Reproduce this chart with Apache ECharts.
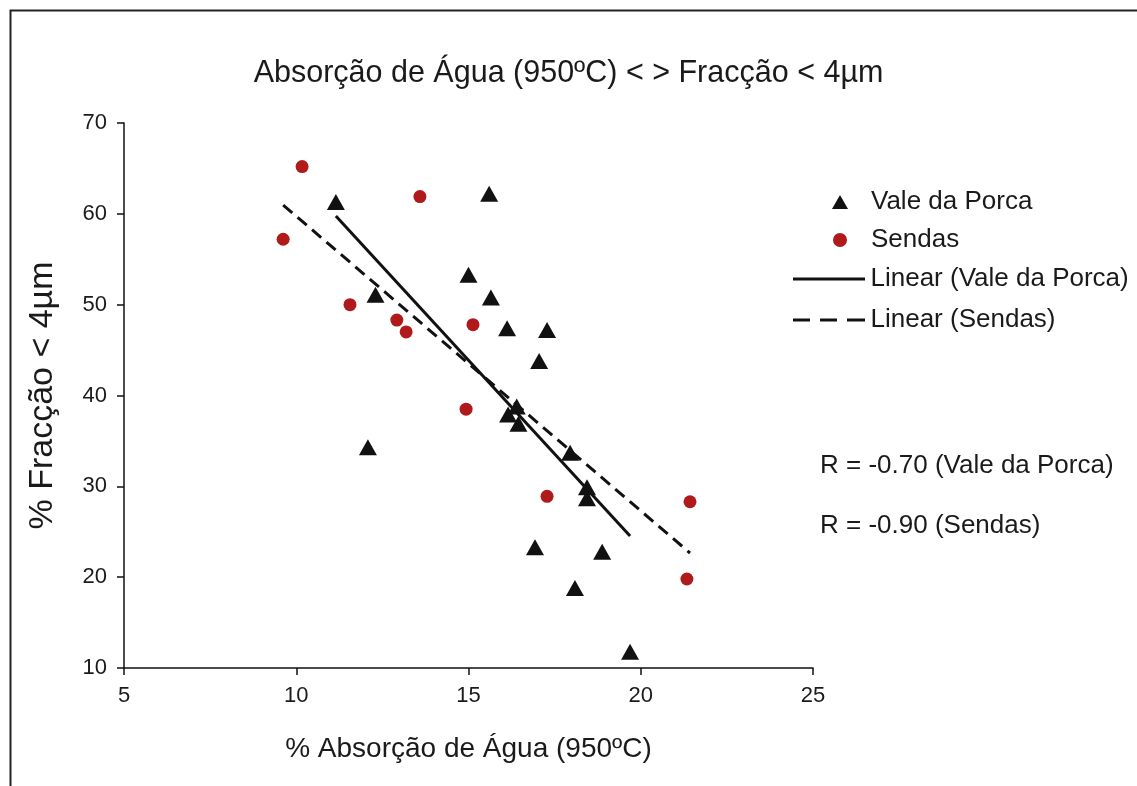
<!DOCTYPE html>
<html>
<head>
<meta charset="utf-8">
<script src="https://cdn.jsdelivr.net/npm/echarts@6/dist/echarts.min.js"></script>
<style>
html,body{margin:0;padding:0;background:#fff;}
#chart{width:1137px;height:786px;}
</style>
</head>
<body>
<div id="chart"></div>
<script>
// ---- data ----
const valeX = [11.15, 15.6, 12.3, 15.0, 15.65, 16.12, 17.28, 17.05, 16.15, 16.4, 16.45, 17.95, 18.44, 18.44, 12.08, 16.93, 18.88, 18.09, 19.69];
const valeY = [61.3, 62.2, 51.1, 53.3, 50.8, 47.4, 47.2, 43.8, 37.9, 38.8, 36.9, 33.7, 29.9, 28.7, 34.3, 23.3, 22.8, 18.8, 11.8];
const sendasX = [10.17, 9.62, 13.59, 11.56, 12.92, 13.19, 15.13, 14.93, 17.28, 21.43, 21.34];
const sendasY = [65.2, 57.2, 61.9, 50.0, 48.3, 47.0, 47.8, 38.5, 28.9, 28.3, 19.8];
const trendValeX = [11.15, 19.69];
const trendValeY = [59.76, 24.53];
const trendSendasX = [9.62, 21.43];
const trendSendasY = [60.97, 22.66];
const seriesNames = ['Vale da Porca', 'Sendas', 'Linear (Vale da Porca)', 'Linear (Sendas)'];
const rTexts = ['R = -0.70 (Vale da Porca)', 'R = -0.90 (Sendas)'];
const titleText = 'Absorção de Água (950ºC) < > Fracção < 4µm';
const xName = '% Absorção de Água (950ºC)';
const yName = '% Fracção < 4µm';

const zip = (a, b) => a.map((v, i) => [v, b[i]]);
const FONT = "'Liberation Sans', Arial, sans-serif";
const TXT = '#1a1a1a';

const chart = echarts.init(document.getElementById('chart'), null, {renderer: 'canvas'});

function legendItem(name, icon, top, left, itemWidth, itemHeight, padLeft) {
  return {
    data: [{name: name, icon: icon}], orient: 'vertical', left: left, top: top, padding: 0,
    itemWidth: itemWidth, itemHeight: itemHeight, selectedMode: false,
    textStyle: {fontFamily: FONT, fontSize: 26, color: TXT, lineHeight: 30, padding: [0, 0, 0, padLeft]}
  };
}
const solidIcon = 'path://M0,0h72v3h-72z';
const dashIcon = 'path://M0,0h17v3h-17z M27,0h17v3h-17z M54,0h18v3h-18z';

chart.setOption({
  backgroundColor: '#fff',
  animation: false,
  title: {
    text: titleText, left: 'center', top: 58, padding: 0,
    textStyle: {fontFamily: FONT, fontSize: 30.5, fontWeight: 'normal', color: TXT}
  },
  grid: {left: 124, right: 324, top: 123, bottom: 118},
  xAxis: {
    type: 'value', min: 5, max: 25, interval: 5,
    name: xName, nameLocation: 'middle', nameGap: 67,
    nameTextStyle: {fontFamily: FONT, fontSize: 28, color: TXT},
    axisLine: {show: true, lineStyle: {color: '#111', width: 1.5}},
    axisTick: {show: true, inside: false, length: 7, lineStyle: {color: '#111', width: 1.5}},
    axisLabel: {fontFamily: FONT, fontSize: 22, color: TXT, margin: 17},
    splitLine: {show: false}
  },
  yAxis: {
    type: 'value', min: 10, max: 70, interval: 10,
    name: yName, nameLocation: 'middle', nameGap: 64,
    nameTextStyle: {fontFamily: FONT, fontSize: 34, color: TXT},
    axisLine: {show: true, lineStyle: {color: '#111', width: 1.5}},
    axisTick: {show: true, inside: false, length: 7, lineStyle: {color: '#111', width: 1.5}},
    axisLabel: {fontFamily: FONT, fontSize: 22, color: TXT, margin: 17},
    splitLine: {show: false}
  },
  legend: [
    legendItem(seriesNames[0], 'triangle', 187, 832, 16, 14, 18),
    legendItem(seriesNames[1], 'circle', 225, 833, 14, 14, 19),
    legendItem(seriesNames[2], solidIcon, 264, 793, 73, 3, 0),
    legendItem(seriesNames[3], dashIcon, 305, 793, 73, 3, 0)
  ],
  series: [
    {
      name: seriesNames[0], type: 'scatter', symbol: 'triangle', symbolSize: [18, 16],
      itemStyle: {color: '#111', opacity: 1}, data: zip(valeX, valeY), z: 3
    },
    {
      name: seriesNames[1], type: 'scatter', symbol: 'circle', symbolSize: 13,
      itemStyle: {color: '#b01a1a', opacity: 1}, data: zip(sendasX, sendasY), z: 3
    },
    {
      name: seriesNames[2], type: 'line', symbol: 'none',
      lineStyle: {color: '#111', width: 3, type: 'solid'},
      itemStyle: {color: '#111'}, data: zip(trendValeX, trendValeY), z: 2
    },
    {
      name: seriesNames[3], type: 'line', symbol: 'none',
      lineStyle: {color: '#111', width: 3, type: [12, 7]},
      itemStyle: {color: '#111'}, data: zip(trendSendasX, trendSendasY), z: 2
    }
  ],
  graphic: [
    {type: 'rect', left: 8, top: 8, z: -1, silent: true,
     shape: {width: 1160, height: 800}, style: {fill: 'none', stroke: '#222', lineWidth: 2}},
    {type: 'text', left: 820, top: 453, style: {text: rTexts[0], font: '26px ' + FONT, fill: TXT}},
    {type: 'text', left: 820, top: 513, style: {text: rTexts[1], font: '26px ' + FONT, fill: TXT}}
  ]
});
</script>
</body>
</html>
